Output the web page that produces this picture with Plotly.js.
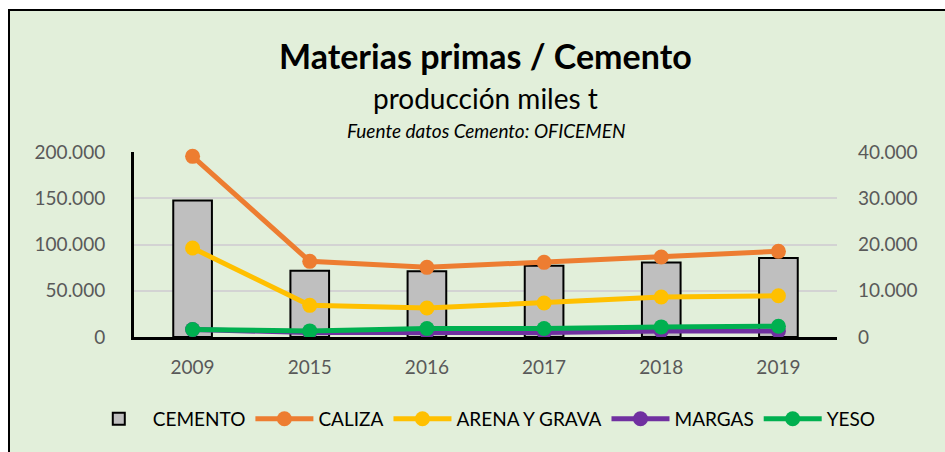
<!DOCTYPE html>
<html>
<head>
<meta charset="utf-8">
<script src="https://cdn.plot.ly/plotly-3.0.1.min.js"></script>
<style>
  html, body { margin: 0; padding: 0; background: #ffffff; overflow: hidden; width: 945px; height: 452px; }
  #frame { position: absolute; left: 8px; top: 9px; width: 960px; height: 460px; border-left: 2px solid #000; border-top: 2px solid #000; background: #E2EFDA; }
  #chart { position: absolute; left: 0; top: 0; width: 935px; height: 441px; }
</style>
</head>
<body>
<div id="frame"><div id="chart"></div></div>
<script>
const years = ['2009', '2015', '2016', '2017', '2018', '2019'];
const cemento = [29500, 14300, 14200, 15400, 16100, 17100];
const caliza = [195300, 81800, 75300, 80700, 86500, 92600];
const arenaGrava = [96200, 34200, 31300, 36700, 43200, 44600];
const margas = [8000, 4900, 4900, 4900, 6600, 6600];
const yeso = [8100, 6600, 9200, 9200, 10900, 11700];

const leftTicks = [0, 50000, 100000, 150000, 200000];
const rightTicks = [0, 10000, 20000, 30000, 40000];

const FONT = 'Lato, "Open Sans", sans-serif';

function lineTrace(name, vals, color) {
  return {
    type: 'scatter', mode: 'lines+markers', name: name,
    x: years, y: vals, xaxis: 'x', yaxis: 'y2',
    line: { color: color, width: 5 },
    marker: { color: color, size: 15 },
    cliponaxis: false
  };
}

const data = [
  {
    type: 'bar', name: 'CEMENTO', x: years, y: cemento, xaxis: 'x', yaxis: 'y',
    marker: { color: '#BFBFBF', line: { color: '#000000', width: 2 } },
    width: 0.33
  },
  lineTrace('CALIZA', caliza, '#ED7D31'),
  lineTrace('ARENA Y GRAVA', arenaGrava, '#FFC000'),
  lineTrace('MARGAS', margas, '#7030A0'),
  lineTrace('YESO', yeso, '#00B050')
];

const layout = {
  width: 935, height: 441,
  margin: { l: 124, r: 108, t: 141, b: 115 },
  paper_bgcolor: '#E2EFDA', plot_bgcolor: 'rgba(0,0,0,0)',
  separators: ',.',
  font: { family: FONT, color: '#595959', size: 19 },
  showlegend: true,
  legend: {
    orientation: 'h', x: -0.07, xanchor: 'left', y: -0.34, yanchor: 'top',
    font: { family: FONT, color: '#000000', size: 19 },
    bgcolor: 'rgba(0,0,0,0)', traceorder: 'normal', itemwidth: 58
  },
  xaxis: {
    type: 'category', categoryorder: 'array', categoryarray: years,
    showline: true, linecolor: '#000000', linewidth: 3,
    ticks: '', showgrid: false, zeroline: false,
    ticklabelstandoff: 11,
    tickfont: { family: FONT, color: '#595959', size: 19 }
  },
  yaxis: {
    side: 'right', range: [0, 40000], tickvals: rightTicks, tickformat: ',d',
    showgrid: true, gridcolor: '#D3D3D3', gridwidth: 2, zeroline: false,
    showline: false, ticks: '', ticklabelstandoff: 20,
    tickfont: { family: FONT, color: '#595959', size: 19 }
  },
  yaxis2: {
    overlaying: 'y', side: 'left', range: [0, 200000], tickvals: leftTicks, tickformat: ',d',
    showgrid: false, zeroline: false,
    showline: true, linecolor: '#000000', linewidth: 3, ticks: '', ticklabelstandoff: 22,
    tickfont: { family: FONT, color: '#595959', size: 19 }
  },
  annotations: [
    { text: '<b>Materias primas / Cemento</b>', xref: 'paper', yref: 'paper', x: 0.5, xanchor: 'center',
      y: 1, yanchor: 'middle', yshift: 97, showarrow: false,
      font: { family: FONT, size: 34, color: '#000000' } },
    { text: 'producción miles t', xref: 'paper', yref: 'paper', x: 0.5, xanchor: 'center',
      y: 1, yanchor: 'middle', yshift: 54, showarrow: false,
      font: { family: FONT, size: 28, color: '#000000' } },
    { text: '<i>Fuente datos Cemento: OFICEMEN</i>', xref: 'paper', yref: 'paper', x: 0.5, xanchor: 'center',
      y: 1, yanchor: 'middle', yshift: 22, showarrow: false,
      font: { family: FONT, size: 19, color: '#000000' } }
  ]
};

Plotly.newPlot('chart', data, layout, { displayModeBar: false, staticPlot: true });
</script>
</body>
</html>
